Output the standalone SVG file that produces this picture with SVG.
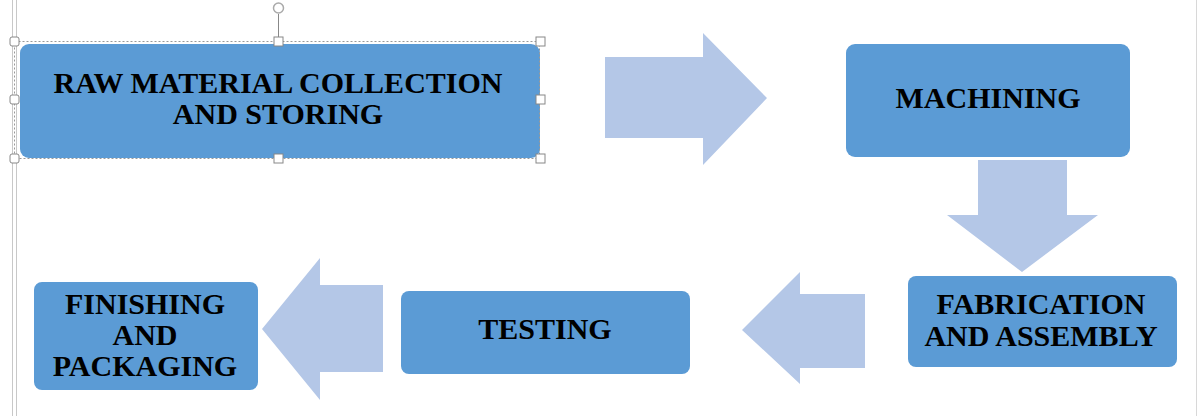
<svg xmlns="http://www.w3.org/2000/svg" width="1199" height="416" viewBox="0 0 1199 416">
<style>
.box{fill:#5B9BD5;}
.arr{fill:#B4C7E7;}
.t{font-family:"Liberation Serif","Times New Roman",serif;font-weight:bold;font-size:30px;fill:#000;text-anchor:middle;}
.h{fill:#fff;stroke:#888;stroke-width:1;}
</style>
<rect width="1199" height="416" fill="#fff"/>
<g id="frame">
<line x1="12.5" y1="0" x2="12.5" y2="416" stroke="#c8c8c8" stroke-width="1"/>
<line x1="16.5" y1="0" x2="16.5" y2="416" stroke="#c8c8c8" stroke-width="1"/>
<line x1="1196.5" y1="0" x2="1196.5" y2="416" stroke="#d8d8d8" stroke-width="1"/>
</g>
<g id="n1">
<rect class="box" x="20" y="44" width="520" height="114" rx="9"/>
<text class="t" x="278" y="93">RAW MATERIAL COLLECTION</text>
<text class="t" x="278" y="124">AND STORING</text>
</g>
<g id="selection">
<rect x="14.5" y="41.5" width="525" height="117" fill="none" stroke="#999" stroke-dasharray="2,2"/>
<line x1="278.5" y1="14" x2="278.5" y2="38" stroke="#888"/>
<circle cx="278.5" cy="8" r="5" fill="none" stroke="#aaa" stroke-width="1.5"/>
<rect class="h" x="274" y="37" width="9" height="9"/>
<rect class="h" x="536" y="37" width="9" height="9"/>
<rect class="h" x="10" y="37" width="9" height="9" rx="2"/>
<rect class="h" x="10" y="95" width="9" height="9" rx="2"/>
<rect class="h" x="536" y="95" width="9" height="9"/>
<rect class="h" x="10" y="154" width="9" height="9" rx="2"/>
<rect class="h" x="274" y="154" width="9" height="9"/>
<rect class="h" x="536" y="154" width="9" height="9"/>
</g>
<g id="n2">
<rect class="box" x="846" y="44" width="284" height="113" rx="9"/>
<text class="t" x="988" y="108">MACHINING</text>
</g>
<g id="n3">
<rect class="box" x="908" y="276" width="269" height="91" rx="8"/>
<text class="t" x="1041" y="314">FABRICATION</text>
<text class="t" x="1041" y="346">AND ASSEMBLY</text>
</g>
<g id="n4">
<rect class="box" x="401" y="291" width="289" height="83" rx="8"/>
<text class="t" x="545" y="339">TESTING</text>
</g>
<g id="n5">
<rect class="box" x="34" y="282" width="224" height="108" rx="8"/>
<text class="t" x="145" y="314">FINISHING</text>
<text class="t" x="145" y="345">AND</text>
<text class="t" x="145" y="376">PACKAGING</text>
</g>
<g id="connectors">
<polygon class="arr" points="605,57 703,57 703,33 767,98 703,165 703,138 605,138"/>
<polygon class="arr" points="978,160 1067,160 1067,215 1098,215 1022,272 947,215 978,215"/>
<polygon class="arr" points="865,294 800,294 800,272 742,330 800,384 800,368 865,368"/>
<polygon class="arr" points="383,285 320,285 320,258 262,329 320,400 320,372 383,372"/>
</g>
</svg>
